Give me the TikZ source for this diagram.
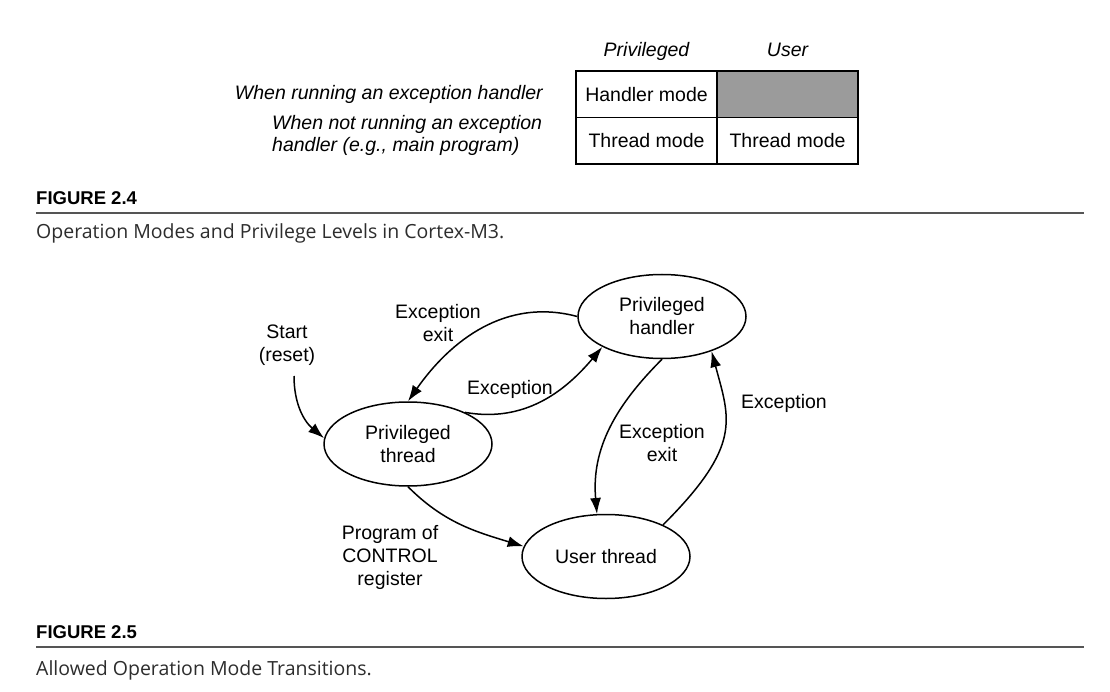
\documentclass[tikz,border=0pt]{standalone}
\usepackage{fontspec}
\setmainfont{Liberation Sans}
\newfontfamily\capfont{Open Sans}
\usetikzlibrary{shapes.geometric,arrows.meta}
\definecolor{cellgray}{RGB}{155,155,155}
\definecolor{rulegray}{RGB}{85,85,85}
\definecolor{captext}{RGB}{45,45,45}
\begin{document}
\begin{tikzpicture}[x=1pt,y=-1pt,
  lbl/.style={font=\fontsize{19.5}{23}\selectfont, align=center, inner sep=0pt},
  itl/.style={font=\fontsize{19.5}{22}\selectfont\itshape, inner sep=0pt},
  state/.style={draw, line width=1.5pt, ellipse, minimum width=168pt, minimum height=84pt,
    inner sep=0pt, align=center, font=\fontsize{19.5}{23}\selectfont},
  cell/.style={draw, line width=1.3pt, minimum width=141pt, minimum height=46.5pt,
    inner sep=0pt, font=\fontsize{19.5}{23}\selectfont},
  conn/.style={line width=1.5pt, -{Latex[length=16pt,width=11pt]}},
  figlabel/.style={font=\fontsize{18.5}{22}\selectfont\bfseries, inner sep=0pt, anchor=base west},
  caption/.style={font=\fontsize{19.5}{23}\selectfont\capfont, text=captext, inner sep=0pt, anchor=base west},
  figrule/.style={draw=rulegray, line width=1.6pt}
]
\useasboundingbox (0,0) rectangle (1110,692);
\fill[white] (0,0) rectangle (1110,692);

% ---------- Figure 2.4 ----------
\node[itl, anchor=base] (hpriv) at (646.5,57) {Privileged};
\node[itl, anchor=base] (huser) at (787.5,57) {User};
\node[cell] (c11) at (646.5,94.25) {Handler mode};
\node[cell, fill=cellgray] (c12) at (787.5,94.25) {};
\node[cell] (c21) at (646.5,140.75) {Thread mode};
\node[cell] (c22) at (787.5,140.75) {Thread mode};
\node[itl, anchor=base east] (rowa) at (543,100) {When running an exception handler};
\node[itl, align=left, anchor=west] (rowb) at (272,135) {When not running an exception\\handler (e.g., main program)};

\node[figlabel] (f24) at (36,205) {FIGURE 2.4};
\draw[figrule] (36,213) -- (1084,213);
\node[caption] (cap24) at (36,239) {Operation Modes and Privilege Levels in Cortex-M3.};

% ---------- Figure 2.5 ----------
\node[state] (ph) at (662,316.5) {Privileged\\handler};
\node[state] (pt) at (408,444) {Privileged\\thread};
\node[state] (ut) at (606,556.5) {User thread};

\node[lbl] (start) at (287,345.5) {Start\\(reset)};
\coordinate (s) at (294,376);
\node[lbl] (lexit1) at (438,323.5) {Exception\\exit};
\node[lbl, anchor=base] (lexc1) at (510,394) {Exception};
\node[lbl] (lexit2) at (662,443.4) {Exception\\exit};
\node[lbl, anchor=base] (lexc2) at (784,408) {Exception};
\node[lbl] (lprog) at (390,557) {Program of\\CONTROL\\register};

\draw[conn] (s) to[out=-90, in=140] (pt.176);
\draw[conn] (ph.180) to[out=165, in=55] (pt.north);
\draw[conn] (pt.29) to[out=-10, in=230] (ph.207);
\draw[conn] (ph.south) to[out=225, in=95] (ut.102);
\draw[conn] (ut.29) to[out=45, in=-75, out looseness=1.6, in looseness=1.0] (ph.-35);
\draw[conn] (pt.south) to[out=-45, in=163] (ut.173);

\node[figlabel] (f25) at (36,638.5) {FIGURE 2.5};
\draw[figrule] (36,647) -- (1084,647);
\node[caption] (cap25) at (36,675) {Allowed Operation Mode Transitions.};
\end{tikzpicture}
\end{document}
